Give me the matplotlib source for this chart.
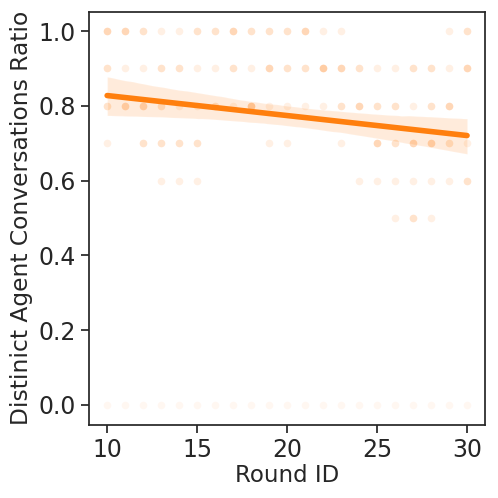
import numpy as np
import pandas as pd
import matplotlib
matplotlib.use("Agg")
import matplotlib.pyplot as plt
import seaborn as sns

rounds = list(range(10, 31))
# counts of observations per round for each ratio level (read from overlap darkness)
count_100 = [6, 6, 4, 2, 2, 4, 4, 6, 4, 4, 4, 6, 2, 2, 0, 0, 0, 0, 0, 2, 4]
count_090 = [4, 2, 2, 4, 4, 2, 2, 4, 2, 6, 4, 4, 8, 6, 4, 2, 2, 4, 4, 2, 6]
count_080 = [4, 6, 6, 4, 2, 2, 4, 2, 8, 2, 2, 2, 2, 4, 6, 4, 4, 2, 4, 6, 0]
count_070 = [2, 0, 4, 4, 4, 4, 0, 0, 0, 2, 2, 0, 0, 2, 0, 6, 4, 6, 6, 4, 2]
count_060 = [0, 0, 0, 2, 2, 2, 0, 0, 0, 0, 0, 0, 0, 0, 2, 2, 2, 2, 2, 2, 4]
count_050 = [0, 0, 0, 0, 0, 0, 0, 0, 0, 0, 0, 0, 0, 0, 0, 0, 2, 4, 2, 0, 0]
count_000 = [1] * 21

levels = {1.0: count_100, 0.9: count_090, 0.8: count_080, 0.7: count_070,
          0.6: count_060, 0.5: count_050, 0.0: count_000}

xs, ys = [], []
for val, counts in levels.items():
    for r, c in zip(rounds, counts):
        xs += [r] * c
        ys += [val] * c
df = pd.DataFrame({"Round ID": xs, "ratio": ys})

sns.set_theme(style="ticks")
fig, ax = plt.subplots(figsize=(4.98, 4.98), dpi=100)
fig.subplots_adjust(left=0.179, right=0.974, bottom=0.147, top=0.976)
sns.regplot(data=df, x="Round ID", y="ratio", ax=ax, color="#ff7f0e",
            scatter_kws={"alpha": 0.055, "s": 30, "linewidths": 0},
            line_kws={"linewidth": 4})
ax.set_xlim(9, 31)
ax.set_ylim(-0.053, 1.051)
ax.set_xticks([10, 15, 20, 25, 30])
ax.set_yticks([0.0, 0.2, 0.4, 0.6, 0.8, 1.0])
ax.tick_params(labelsize=17)
ax.set_xlabel("Round ID", fontsize=16.5, labelpad=1.5)
ax.set_ylabel("Distinict Agent Conversations Ratio", fontsize=16.8)
for s in ax.spines.values():
    s.set_visible(True)
fig.savefig("out.png", dpi=100)
